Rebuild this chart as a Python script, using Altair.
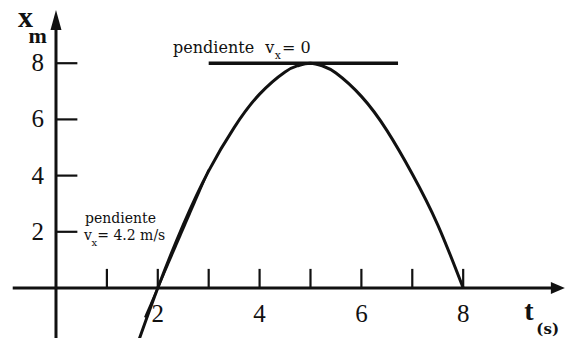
import altair as alt
import pandas as pd

INK = "#111111"

# Position x (m) against time t (s)
t_curve = [1.6, 2.0, 2.5, 3.0, 3.5, 4.0, 4.5, 4.75, 5.0, 5.25, 5.5, 6.0, 6.5, 7.0, 7.5, 8.0]
x_curve = [-2.0, 0.0, 2.25, 4.17, 5.71, 6.9, 7.69, 7.91, 8.0, 7.89, 7.65, 6.82, 5.61, 4.06, 2.25, 0.0]

# Axis ticks and labels
t_ticks = [1, 2, 3, 4, 5, 6, 7, 8]
t_tick_labels = [2, 4, 6, 8]
x_ticks = [2, 4, 6, 8]

# Tangent lines: slope (m/s), point of contact, time span drawn
slope_start, touch_start, span_start = 4.2, (2.0, 0.0), (1.75, 3.0)
slope_peak, touch_peak, span_peak = 0.0, (5.0, 8.0), (3.0, 6.72)

xs = alt.Scale(domain=[-1.1, 10.02], nice=False, zero=False)
ys = alt.Scale(domain=[-1.78, 10.25], nice=False, zero=False)


def X(field="t"):
    return alt.X(f"{field}:Q", scale=xs, axis=None)


def Y(field="x"):
    return alt.Y(f"{field}:Q", scale=ys, axis=None)


def tangent(slope, touch, span):
    t0, x0 = touch
    return pd.DataFrame({
        "t": list(span),
        "x": [x0 + slope * (t - t0) for t in span],
    })


curve = alt.Chart(pd.DataFrame({"t": t_curve, "x": x_curve})).mark_line(
    color=INK, strokeWidth=3, interpolate="natural", clip=True
).encode(x=X(), y=Y())

tan1 = alt.Chart(tangent(slope_start, touch_start, span_start)).mark_line(
    color=INK, strokeWidth=2.2, clip=True
).encode(x=X(), y=Y())

tan2 = alt.Chart(tangent(slope_peak, touch_peak, span_peak)).mark_line(
    color=INK, strokeWidth=3.5
).encode(x=X(), y=Y())

# Axis lines
t_axis = alt.Chart(pd.DataFrame({"t": [-0.85], "t2": [9.75], "x": [0.0]})).mark_rule(
    color=INK, strokeWidth=3
).encode(x=X(), x2="t2:Q", y=Y())

x_axis = alt.Chart(pd.DataFrame({"t": [0.0], "x": [-1.78], "x2": [9.3]})).mark_rule(
    color=INK, strokeWidth=3
).encode(x=X(), y=Y(), y2="x2:Q")

# Arrow heads
arrow_up = alt.Chart(pd.DataFrame({"t": [0.0], "x": [9.54]})).mark_point(
    shape="M0,-1L0.55,1L-0.55,1Z", size=400, filled=True, color=INK, opacity=1, strokeWidth=0
).encode(x=X(), y=Y())

arrow_right = alt.Chart(pd.DataFrame({"t": [9.86], "x": [0.0]})).mark_point(
    shape="M1,0L-1,-0.85L-1,0.85Z", size=196, filled=True, color=INK, opacity=1, strokeWidth=0
).encode(x=X(), y=Y())

# Tick marks
t_tick_marks = alt.Chart(pd.DataFrame({"t": t_ticks, "x": 0.0, "x2": 0.68})).mark_rule(
    color=INK, strokeWidth=2.2
).encode(x=X(), y=Y(), y2="x2:Q")

x_tick_marks = alt.Chart(pd.DataFrame({"x": x_ticks, "t": 0.0, "t2": 0.42})).mark_rule(
    color=INK, strokeWidth=2.2
).encode(x=X(), x2="t2:Q", y=Y())


def text_layer(rows, size, font="DejaVu Serif", weight="normal", align="left", baseline="alphabetic"):
    return alt.Chart(pd.DataFrame(rows, columns=["t", "x", "text"])).mark_text(
        font=font, fontSize=size, fontWeight=weight, align=align, baseline=baseline, color=INK
    ).encode(x=X(), y=Y(), text="text:N")


t_labels = text_layer([(v, -1.21, str(v)) for v in t_tick_labels], 25,
                      font="Liberation Serif", align="center")
x_labels = text_layer([(-0.36, v, str(v)) for v in x_ticks], 25,
                      font="Liberation Serif", align="center", baseline="middle")

axis_x_name = text_layer([(-0.60, 9.29, "x")], 30, font="Liberation Serif", weight="bold", align="center")
axis_x_unit = text_layer([(-0.36, 8.72, "m")], 22, font="Liberation Serif", weight="bold", align="center")
axis_t_name = text_layer([(9.29, -1.14, "t")], 28, font="Liberation Serif", weight="bold", align="center")
axis_t_unit = text_layer([(9.66, -1.64, "(s)")], 15, font="DejaVu Serif", weight="bold", align="center")

note_peak = text_layer([(2.30, 8.36, "pendiente"), (4.11, 8.36, "v"), (4.44, 8.36, "= 0")], 16)
note_peak_sub = text_layer([(4.30, 8.15, "x")], 11)

note_start_top = text_layer([(0.57, 2.33, "pendiente")], 14)
note_start = text_layer([(0.55, 1.71, "v"),
                         (0.81, 1.71, "= " + f"{slope_start} m/s")], 14)
note_start_sub = text_layer([(0.70, 1.49, "x")], 10)

chart = alt.layer(
    tan1, tan2, curve, t_axis, x_axis, arrow_up, arrow_right,
    t_tick_marks, x_tick_marks, t_labels, x_labels,
    axis_x_name, axis_x_unit, axis_t_name, axis_t_unit,
    note_peak, note_peak_sub, note_start_top, note_start, note_start_sub,
).properties(
    width=566, height=338, padding=0, autosize=alt.AutoSizeParams(type="none"),
    background="white",
).configure_view(stroke=None)

chart.save("out.html", embed_options={"renderer": "svg", "actions": False})
